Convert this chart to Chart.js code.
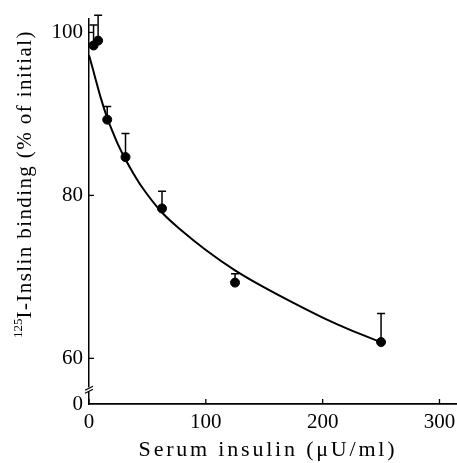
<!DOCTYPE html>
<html>
<head>
<meta charset="utf-8">
<script src="https://cdn.jsdelivr.net/npm/chart.js@4"></script>
<style>
  html, body { margin: 0; padding: 0; background: #fff; }
  #wrap { width: 457px; height: 463px; }
</style>
</head>
<body>
<div id="wrap"><canvas id="bindingChart" width="457" height="463"></canvas></div>
<script>
// measured points (serum insulin, % of initial binding)
const doses = [3.9, 7.8, 15.6, 31.25, 62.5, 125, 250];
const binding = [98.4, 99.0, 89.3, 84.7, 78.4, 69.3, 62.0];
// top of the (upper only) error bars
const errTop = [100.9, 102.1, 90.9, 87.6, 80.5, 70.4, 65.5];

// fitted curve
const curveX = [0, 2, 5, 10, 15.6, 20, 25, 31.25, 38, 45, 62.5, 80, 100, 125, 150, 175, 200, 225, 250];
const curveY = [97.2, 96.2, 94.6, 92.0, 89.5, 87.9, 86.2, 84.4, 82.7, 81.1, 77.9, 75.6, 73.3, 70.8, 68.7, 66.8, 65.0, 63.4, 62.0];

const xTicks = [0, 100, 200, 300];
const yTicks = [60, 80, 100];
const yBottom = 54.4;   // shown as "0" below the axis break
const yBreak = 56.2;

const xTitle = 'Serum insulin (\u03bcU/ml)';
const yTitleSup = '125';
const yTitle = 'I-Inslin binding (% of initial)';

const serif = '"Liberation Serif", "DejaVu Serif", serif';

const extras = {
    id: 'extras',
    afterDatasetsDraw(chart) {
        const ctx = chart.ctx;
        const xs = chart.scales.x, ys = chart.scales.y;
        ctx.save();
        ctx.strokeStyle = '#000';
        ctx.fillStyle = '#000';

        // error bars
        ctx.lineWidth = 1.5;
        doses.forEach((d, i) => {
            const px = xs.getPixelForValue(d);
            const y0 = ys.getPixelForValue(binding[i]);
            const y1 = ys.getPixelForValue(errTop[i]);
            ctx.beginPath();
            ctx.moveTo(px, y0);
            ctx.lineTo(px, y1);
            ctx.moveTo(px - 4, y1);
            ctx.lineTo(px + 4, y1);
            ctx.stroke();
        });

        // inward tick marks
        ctx.lineWidth = 1.3;
        xTicks.forEach(t => {
            const px = xs.getPixelForValue(t);
            ctx.beginPath();
            ctx.moveTo(px, xs.top);
            ctx.lineTo(px, xs.top - 5);
            ctx.stroke();
        });
        yTicks.forEach(t => {
            const py = ys.getPixelForValue(t);
            ctx.beginPath();
            ctx.moveTo(ys.right, py);
            ctx.lineTo(ys.right + 5, py);
            ctx.stroke();
        });

        // axis break marks
        const bx = ys.right, by = ys.getPixelForValue(yBreak);
        ctx.fillStyle = '#fff';
        ctx.fillRect(bx - 3, by - 2, 6, 4);
        ctx.strokeStyle = '#000';
        ctx.lineWidth = 1.2;
        ctx.beginPath();
        ctx.moveTo(bx - 4, by + 1); ctx.lineTo(bx + 4, by - 3);
        ctx.moveTo(bx - 4, by + 4); ctx.lineTo(bx + 4, by);
        ctx.stroke();

        // axis titles
        ctx.fillStyle = '#000';
        ctx.textBaseline = 'middle';
        ctx.font = '22px ' + serif;
        ctx.letterSpacing = '2.8px';
        ctx.textAlign = 'center';
        ctx.fillText(xTitle, 268, 450);

        ctx.translate(25, 184);
        ctx.rotate(-Math.PI / 2);
        ctx.letterSpacing = '1.4px';
        ctx.font = '21px ' + serif;
        const w1 = ctx.measureText(yTitle).width;
        ctx.font = '13px ' + serif;
        ctx.letterSpacing = '0px';
        const w0 = ctx.measureText(yTitleSup).width;
        const start = -(w0 + w1) / 2;
        ctx.textAlign = 'left';
        ctx.fillText(yTitleSup, start, -6);
        ctx.font = '21px ' + serif;
        ctx.letterSpacing = '1.4px';
        ctx.fillText(yTitle, start + w0, 0);
        ctx.restore();
    }
};

new Chart('bindingChart', {
    type: 'scatter',
    data: {
        datasets: [{
            label: 'fit',
            type: 'line',
            data: curveX.map((x, i) => ({ x: x, y: curveY[i] })),
            borderColor: '#000',
            borderWidth: 2,
            pointRadius: 0,
            cubicInterpolationMode: 'monotone',
            fill: false
        }, {
            label: 'binding',
            data: doses.map((d, i) => ({ x: d, y: binding[i] })),
            backgroundColor: '#000',
            borderColor: '#000',
            pointRadius: 4.5
        }]
    },
    options: {
        responsive: false,
        animation: false,
        layout: { autoPadding: false, padding: { top: 18, right: 0, left: 0, bottom: 0 } },
        plugins: {
            legend: { display: false },
            tooltip: { enabled: false }
        },
        scales: {
            x: {
                type: 'linear',
                min: 0,
                max: 315,
                afterBuildTicks: s => { s.ticks = xTicks.map(v => ({ value: v })); },
                afterFit: s => { s.height = 59; s.paddingRight = 0; s.paddingLeft = 0; },
                grid: { display: false, drawTicks: false },
                border: { display: true, color: '#000', width: 1.8 },
                ticks: {
                    color: '#000',
                    padding: 6,
                    font: { family: serif, size: 21 },
                    maxRotation: 0
                }
            },
            y: {
                type: 'linear',
                min: yBottom,
                max: 101.7,
                afterBuildTicks: s => { s.ticks = [yBottom].concat(yTicks).map(v => ({ value: v })); },
                afterFit: s => { s.width = 89; },
                grid: { display: false, drawTicks: false },
                border: { display: true, color: '#000', width: 1.5 },
                ticks: {
                    color: '#000',
                    padding: 6,
                    font: { family: serif, size: 21 },
                    callback: v => (v === yBottom ? '0' : String(v))
                }
            }
        }
    },
    plugins: [extras]
});
</script>
</body>
</html>
